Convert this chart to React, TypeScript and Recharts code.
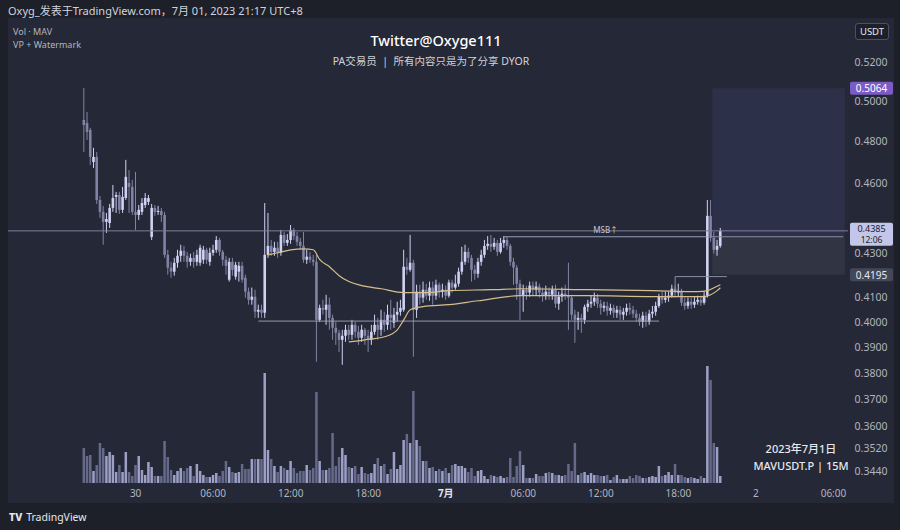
import React from 'react';
import { ComposedChart, Bar, Line, XAxis, YAxis, ReferenceLine, ReferenceArea } from 'recharts';

const FONT = "'Noto Sans', 'Noto Sans CJK SC', sans-serif";
const UP = '#cfd2f2';
const DOWN = '#8084a4';
const VOL_UP = '#9da0c6';
const VOL_DOWN = '#666a8a';
const MA_COLOR = '#d6bf8c';

// 15m candles, first one at 20:00 on 29 June (slot 0 = 00:00 30 June)
const firstSlot = -16;

const opens = [
  0.4905, 0.4890, 0.4856, 0.4701, 0.4725, 0.4524, 0.4470, 0.4425, 0.4420, 0.4488, 0.4538, 0.4547, 0.4479, 0.4533, 0.4603, 0.4584,
  0.4470, 0.4456, 0.4470, 0.4501, 0.4515, 0.4358, 0.4488, 0.4470, 0.4474, 0.4456, 0.4280,
  0.4225, 0.4208, 0.4246, 0.4276, 0.4298, 0.4276, 0.4250, 0.4267, 0.4250, 0.4246,
  0.4259, 0.4302, 0.4250, 0.4289, 0.4302, 0.4345, 0.4293, 0.4259, 0.4174, 0.4250,
  0.4187, 0.4208, 0.4233, 0.4182, 0.4124, 0.4090, 0.4103, 0.4041, 0.4049, 0.4037,
  0.4280, 0.4319, 0.4293, 0.4311, 0.4289, 0.4367, 0.4332, 0.4345, 0.4389, 0.4362,
  0.4337, 0.4319, 0.4259, 0.4272, 0.4259, 0.4250, 0.4008, 0.4057, 0.4049, 0.4070,
  0.4016, 0.3976, 0.3956, 0.3928, 0.3944, 0.3968, 0.3948, 0.3988, 0.3960, 0.3936,
  0.3968, 0.3944, 0.3928, 0.3960, 0.3988, 0.3968, 0.4008, 0.3988, 0.4029, 0.3996,
  0.4029, 0.4041, 0.4049, 0.4229, 0.4216, 0.4246, 0.4049, 0.4124, 0.4099, 0.4132,
  0.4107, 0.4141, 0.4107, 0.4153, 0.4124, 0.4132, 0.4107, 0.4162, 0.4141, 0.4157,
  0.4208, 0.4250, 0.4293, 0.4267, 0.4216, 0.4199, 0.4250, 0.4280, 0.4319, 0.4328,
  0.4315, 0.4332, 0.4293, 0.4332, 0.4345, 0.4319, 0.4250, 0.4225, 0.4157, 0.4107,
  0.4132, 0.4120, 0.4149, 0.4132, 0.4145, 0.4120, 0.4107, 0.4124, 0.4111, 0.4132,
  0.4074, 0.4103, 0.4115, 0.4107, 0.4099, 0.4029, 0.4008, 0.4016, 0.4008, 0.4061,
  0.4074, 0.4082, 0.4099, 0.4074, 0.4057, 0.4065, 0.4045, 0.4057, 0.4037, 0.4049,
  0.4029, 0.4041, 0.4057, 0.4049, 0.4033, 0.4016, 0.4000, 0.4025, 0.4000, 0.4033,
  0.4041, 0.4065, 0.4103, 0.4090, 0.4099, 0.4107, 0.4136, 0.4120, 0.4124, 0.4078,
  0.4065, 0.4082, 0.4070, 0.4082, 0.4090, 0.4078, 0.4107, 0.4452, 0.4354, 0.4302, 0.4319,
];

const highs = [
  0.5066, 0.4945, 0.4866, 0.4769, 0.4749, 0.4542, 0.4497, 0.4465, 0.4506, 0.4593, 0.4561, 0.4561, 0.4584, 0.4711, 0.4663, 0.4617,
  0.4654, 0.4501, 0.4533, 0.4556, 0.4547, 0.4506, 0.4501, 0.4497, 0.4488, 0.4470, 0.4302,
  0.4250, 0.4267, 0.4302, 0.4324, 0.4319, 0.4293, 0.4285, 0.4293, 0.4302, 0.4324,
  0.4319, 0.4311, 0.4311, 0.4324, 0.4362, 0.4354, 0.4302, 0.4276, 0.4267, 0.4267,
  0.4250, 0.4250, 0.4250, 0.4195, 0.4141, 0.4141, 0.4132, 0.4070, 0.4070, 0.4510,
  0.4465, 0.4345, 0.4337, 0.4337, 0.4389, 0.4380, 0.4371, 0.4411, 0.4398, 0.4380,
  0.4354, 0.4380, 0.4302, 0.4293, 0.4280, 0.4280, 0.4070, 0.4090, 0.4111, 0.4099,
  0.4029, 0.4000, 0.3968, 0.3968, 0.3988, 0.3988, 0.4008, 0.4000, 0.3984, 0.3988,
  0.3976, 0.3968, 0.3988, 0.4029, 0.4016, 0.4049, 0.4041, 0.4070, 0.4090, 0.4057,
  0.4082, 0.4090, 0.4302, 0.4267, 0.4367, 0.4259, 0.4153, 0.4153, 0.4166, 0.4157,
  0.4166, 0.4166, 0.4174, 0.4162, 0.4157, 0.4149, 0.4174, 0.4174, 0.4195, 0.4225,
  0.4315, 0.4324, 0.4311, 0.4280, 0.4237, 0.4267, 0.4302, 0.4345, 0.4362, 0.4367,
  0.4354, 0.4345, 0.4354, 0.4362, 0.4358, 0.4328, 0.4267, 0.4237, 0.4174, 0.4153,
  0.4149, 0.4166, 0.4166, 0.4166, 0.4157, 0.4141, 0.4149, 0.4141, 0.4149, 0.4153,
  0.4124, 0.4141, 0.4153, 0.4246, 0.4111, 0.4049, 0.4041, 0.4033, 0.4070, 0.4090,
  0.4107, 0.4120, 0.4115, 0.4090, 0.4082, 0.4082, 0.4074, 0.4070, 0.4065, 0.4065,
  0.4057, 0.4074, 0.4078, 0.4065, 0.4049, 0.4033, 0.4041, 0.4041, 0.4049, 0.4065,
  0.4082, 0.4115, 0.4124, 0.4124, 0.4124, 0.4153, 0.4149, 0.4157, 0.4136, 0.4099,
  0.4099, 0.4099, 0.4103, 0.4107, 0.4107, 0.4124, 0.4524, 0.4524, 0.4380, 0.4345, 0.4398,
];

const lows = [
  0.4749, 0.4807, 0.4687, 0.4673, 0.4506, 0.4443, 0.4324, 0.4376, 0.4398, 0.4470, 0.4465, 0.4461, 0.4465, 0.4524, 0.4465, 0.4456,
  0.4389, 0.4434, 0.4456, 0.4488, 0.4501, 0.4345, 0.4452, 0.4456, 0.4425, 0.4267, 0.4195,
  0.4182, 0.4191, 0.4225, 0.4250, 0.4250, 0.4225, 0.4233, 0.4225, 0.4233, 0.4233,
  0.4241, 0.4241, 0.4233, 0.4276, 0.4289, 0.4276, 0.4233, 0.4195, 0.4166, 0.4191,
  0.4174, 0.4166, 0.4162, 0.4099, 0.4070, 0.4070, 0.4016, 0.4016, 0.4016, 0.4016,
  0.4267, 0.4276, 0.4276, 0.4267, 0.4276, 0.4319, 0.4319, 0.4328, 0.4345, 0.4319,
  0.4302, 0.4246, 0.4241, 0.4246, 0.4233, 0.3842, 0.4000, 0.4029, 0.3988, 0.3968,
  0.3928, 0.3908, 0.3880, 0.3830, 0.3920, 0.3928, 0.3928, 0.3936, 0.3908, 0.3920,
  0.3908, 0.3880, 0.3908, 0.3948, 0.3928, 0.3944, 0.3960, 0.3968, 0.3968, 0.3976,
  0.4000, 0.4025, 0.4041, 0.4195, 0.4208, 0.3861, 0.4016, 0.4070, 0.4078, 0.4090,
  0.4086, 0.4070, 0.4090, 0.4099, 0.4099, 0.4090, 0.4099, 0.4120, 0.4132, 0.4145,
  0.4195, 0.4237, 0.4246, 0.4166, 0.4174, 0.4182, 0.4233, 0.4267, 0.4302, 0.4293,
  0.4302, 0.4276, 0.4285, 0.4311, 0.4302, 0.4233, 0.4153, 0.4090, 0.4008, 0.4041,
  0.4090, 0.4103, 0.4107, 0.4107, 0.4099, 0.4082, 0.4090, 0.4090, 0.4090, 0.4057,
  0.4049, 0.4082, 0.4090, 0.3968, 0.4008, 0.3916, 0.3968, 0.3956, 0.3992, 0.4041,
  0.4057, 0.4065, 0.4057, 0.4029, 0.4041, 0.4025, 0.4029, 0.4016, 0.4016, 0.4008,
  0.4008, 0.4025, 0.4029, 0.4016, 0.4000, 0.3984, 0.3976, 0.3980, 0.3988, 0.4016,
  0.4025, 0.4057, 0.4074, 0.4078, 0.4082, 0.4099, 0.4099, 0.4103, 0.4065, 0.4049,
  0.4053, 0.4053, 0.4057, 0.4070, 0.4065, 0.4070, 0.4099, 0.4337, 0.4285, 0.4276, 0.4311,
];

const closes = [
  0.4880, 0.4846, 0.4725, 0.4725, 0.4524, 0.4470, 0.4425, 0.4438, 0.4488, 0.4533, 0.4547, 0.4479, 0.4538, 0.4631, 0.4584, 0.4470,
  0.4456, 0.4479, 0.4510, 0.4533, 0.4533, 0.4488, 0.4470, 0.4474, 0.4456, 0.4280, 0.4225,
  0.4208, 0.4246, 0.4276, 0.4298, 0.4276, 0.4250, 0.4267, 0.4250, 0.4280, 0.4311,
  0.4302, 0.4259, 0.4289, 0.4302, 0.4345, 0.4293, 0.4259, 0.4233, 0.4250, 0.4216,
  0.4237, 0.4233, 0.4174, 0.4124, 0.4090, 0.4103, 0.4041, 0.4049, 0.4037, 0.4280,
  0.4319, 0.4293, 0.4311, 0.4289, 0.4367, 0.4332, 0.4345, 0.4389, 0.4362, 0.4337,
  0.4319, 0.4259, 0.4272, 0.4259, 0.4250, 0.4008, 0.4057, 0.4049, 0.4070, 0.4016,
  0.3976, 0.3956, 0.3928, 0.3944, 0.3968, 0.3948, 0.3988, 0.3960, 0.3936, 0.3968,
  0.3944, 0.3928, 0.3960, 0.3988, 0.3968, 0.4008, 0.3988, 0.4029, 0.4016, 0.4029,
  0.4041, 0.4057, 0.4229, 0.4216, 0.4246, 0.4049, 0.4124, 0.4099, 0.4132, 0.4107,
  0.4141, 0.4107, 0.4153, 0.4124, 0.4132, 0.4107, 0.4162, 0.4141, 0.4157, 0.4208,
  0.4250, 0.4293, 0.4267, 0.4216, 0.4199, 0.4250, 0.4280, 0.4319, 0.4328, 0.4315,
  0.4332, 0.4293, 0.4332, 0.4345, 0.4319, 0.4250, 0.4225, 0.4157, 0.4107, 0.4132,
  0.4120, 0.4149, 0.4132, 0.4145, 0.4120, 0.4107, 0.4124, 0.4111, 0.4132, 0.4074,
  0.4103, 0.4115, 0.4107, 0.4099, 0.4029, 0.4008, 0.4016, 0.4008, 0.4061, 0.4074,
  0.4082, 0.4099, 0.4074, 0.4057, 0.4065, 0.4045, 0.4057, 0.4037, 0.4049, 0.4029,
  0.4041, 0.4057, 0.4049, 0.4033, 0.4016, 0.4000, 0.4025, 0.4000, 0.4033, 0.4041,
  0.4065, 0.4103, 0.4090, 0.4099, 0.4107, 0.4136, 0.4120, 0.4124, 0.4078, 0.4065,
  0.4082, 0.4070, 0.4082, 0.4090, 0.4078, 0.4107, 0.4452, 0.4354, 0.4302, 0.4319, 0.4385,
];

// volume, thousands of MAV
const volumes = [
  350, 270, 280, 120, 180, 400, 350, 270, 310, 280, 110, 180, 110, 310, 110, 70,
  180, 270, 130, 80, 210, 160, 70, 70, 70, 420, 260,
  130, 80, 120, 150, 120, 150, 170, 70, 190, 120,
  80, 60, 60, 80, 100, 70, 120, 220, 160, 110,
  100, 110, 190, 140, 140, 240, 240, 240, 240, 1100,
  330, 240, 170, 110, 170, 150, 130, 220, 150, 100,
  120, 120, 180, 130, 150, 910, 220, 130, 130, 150,
  500, 170, 260, 350, 280, 160, 150, 170, 90, 160,
  100, 90, 100, 190, 250, 170, 190, 90, 140, 310,
  140, 180, 430, 490, 400, 920, 430, 370, 220, 220,
  150, 160, 120, 140, 120, 150, 100, 180, 190, 170,
  170, 150, 110, 150, 70, 120, 130, 70, 40, 80,
  70, 60, 70, 50, 60, 250, 60, 170, 320, 180,
  50, 50, 50, 90, 70, 70, 100, 110, 100, 80,
  80, 70, 80, 190, 120, 400, 80, 100, 110, 80,
  100, 80, 80, 70, 70, 80, 30, 60, 80, 40,
  40, 40, 70, 50, 80, 70, 50, 50, 60, 70,
  60, 170, 70, 80, 110, 80, 190, 80, 80, 60,
  50, 60, 50, 40, 70, 50, 1170, 1030, 400, 360, 70,
];

// moving averages read at a few slots: [slot, value]
const ma1Points: [number, number][] = [
  [41, 0.428], [44, 0.4289], [48, 0.4302], [52, 0.4306], [55, 0.4302], [57, 0.4259], [60, 0.4229],
  [63, 0.4191], [66, 0.4166], [70, 0.4149], [76, 0.4136], [83, 0.412], [90, 0.412], [97, 0.4128],
  [110, 0.4132], [120, 0.4136], [140, 0.4132], [160, 0.4128], [174, 0.4124], [177, 0.4128],
  [179, 0.414], [181, 0.4153],
];
const ma2Points: [number, number][] = [
  [66, 0.392], [71, 0.3928], [77, 0.394], [81, 0.3968], [83, 0.4008], [85, 0.4049], [89, 0.4062],
  [97, 0.407], [106, 0.4086], [119, 0.4107], [140, 0.4107], [160, 0.4103], [176, 0.4103],
  [178, 0.4111], [180, 0.4128], [181, 0.414],
];

const timeTicks = [0, 24, 48, 72, 96, 120, 144, 168, 192, 216];
const timeLabels = ['30', '06:00', '12:00', '18:00', '7月', '06:00', '12:00', '18:00', '2', '06:00'];
const priceTicks = [0.52, 0.5, 0.48, 0.46, 0.43, 0.41, 0.4, 0.39, 0.38, 0.37, 0.36, 0.352, 0.344];

const lastPrice = 0.4385;
const targetPrice = 0.5064;
const entryPrice = 0.4359;
const stopPrice = 0.4195;
const supportPrice = 0.4003;
const boxPrice = 0.4187;

const ma1Map = new Map(ma1Points);
const ma2Map = new Map(ma2Points);

const rows: any[] = [];
for (let s = -39; s <= 220; s++) {
  const i = s - firstSlot;
  const row: any = { slot: s, ma1: ma1Map.get(s) ?? null, ma2: ma2Map.get(s) ?? null };
  if (i >= 0 && i < closes.length) {
    row.open = opens[i];
    row.high = highs[i];
    row.low = lows[i];
    row.close = closes[i];
    row.vol = volumes[i];
  }
  rows.push(row);
}

const candleRange = (d: any) => (d.high == null ? null : [d.low, d.high]);

const Candle = (props: any) => {
  const { x, y, width, height, payload } = props;
  if (!payload || payload.high == null) return null;
  const { open, close, high, low } = payload;
  const lh = Math.log(high);
  const span = lh - Math.log(low) || 1e-9;
  const py = (p: number) => y + (height * (lh - Math.log(p))) / span;
  const color = close >= open ? UP : DOWN;
  const cx = x + width / 2;
  const top = py(Math.max(open, close));
  const bot = py(Math.min(open, close));
  return (
    <g>
      <line x1={cx} x2={cx} y1={y} y2={y + height} stroke={color} strokeWidth={1} />
      <rect x={cx - 1.3} y={top} width={2.6} height={Math.max(1, bot - top)} fill={color} />
    </g>
  );
};

const VolumeBar = (props: any) => {
  const { x, y, width, height, payload } = props;
  if (!payload || payload.vol == null) return null;
  const color = payload.close >= payload.open ? VOL_UP : VOL_DOWN;
  return <rect x={x + width / 2 - 1.25} y={y} width={2.5} height={height} fill={color} />;
};

// the 0.4300 label sits just under the last-price tag, nudged down a little
const PriceTick = ({ x, y, payload }: any) => (
  <text x={x + 23} y={payload.value === 0.43 ? y + 2.5 : y} fill="#b2b5be" fontSize={10.5} fontFamily={FONT} textAnchor="middle" dominantBaseline="central">
    {Number(payload.value).toFixed(4)}
  </text>
);

const TimeTick = ({ x, y, payload }: any) => {
  const label = timeLabels[timeTicks.indexOf(payload.value)];
  const bold = label === '7月';
  return (
    <text x={x} y={y + 10} fill={bold ? '#e0e3eb' : '#b2b5be'} fontWeight={bold ? 700 : 400} fontSize={10} fontFamily={FONT} textAnchor="middle" dominantBaseline="central">
      {label}
    </text>
  );
};

const AxisTag = ({ viewBox, text, sub, bg, color }: any) => {
  if (!viewBox) return null;
  const x = viewBox.x + viewBox.width + 2;
  const h = sub ? 23 : 13;
  const top = viewBox.y - (sub ? 8 : 6.5);
  return (
    <g>
      <rect x={x} y={top} width={43} height={h} rx={2} fill={bg} />
      <text x={x + 21.5} y={top + (sub ? 5.5 : 6.5)} fill={color} fontSize={sub ? 9 : 10} fontFamily={FONT} textAnchor="middle" dominantBaseline="central">
        {text}
      </text>
      {sub && (
        <text x={x + 21.5} y={top + 17} fill={color} fontSize={8.5} fontFamily={FONT} textAnchor="middle" dominantBaseline="central">
          {sub}
        </text>
      )}
    </g>
  );
};

const MsbLabel = ({ viewBox }: any) => {
  if (!viewBox) return null;
  return (
    <text x={viewBox.x + viewBox.width / 2} y={viewBox.y - 7} fill="#c3c6dc" fontSize={8} fontFamily={FONT} textAnchor="middle" dominantBaseline="central">
      MSB↑
    </text>
  );
};

const abs = (left: number, top: number, extra: React.CSSProperties = {}): React.CSSProperties => ({
  position: 'absolute',
  left,
  top,
  fontFamily: FONT,
  whiteSpace: 'nowrap',
  ...extra,
});

export default function App() {
  return (
    <div style={{ position: 'fixed', left: 0, top: 0, width: 900, height: 530, background: '#1e2029', overflow: 'hidden' }}>
      <div style={abs(8, 3, { fontSize: 11, color: '#d1d4dc', lineHeight: '16px' })}>
        Oxyg_发表于TradingView.com，7月 01, 2023 21:17 UTC+8
      </div>
      <div style={{ position: 'absolute', left: 8, top: 18, width: 886, height: 485, background: '#252836' }}>
        <ComposedChart width={886} height={485} data={rows} margin={{ top: 0, right: 0, bottom: 0, left: 0 }} barGap={-3}>
          <XAxis dataKey="slot" type="category" ticks={timeTicks} interval={0} tick={<TimeTick />} tickSize={0} tickMargin={0} axisLine={false} tickLine={false} height={20} />
          <YAxis yAxisId="price" orientation="right" type="number" scale="log" domain={[0.3399, 0.5437]} allowDataOverflow ticks={priceTicks} interval={0} tick={<PriceTick />} tickSize={0} tickMargin={0} axisLine={false} tickLine={false} width={46} />
          <YAxis yAxisId="vol" hide domain={[0, 4650]} />
          <Bar yAxisId="vol" dataKey="vol" barSize={3} shape={VolumeBar} isAnimationActive={false} />
          <ReferenceArea yAxisId="price" x1={179} x2={219} y1={entryPrice} y2={targetPrice} fill="#5a5fb0" fillOpacity={0.16} stroke="none" />
          <ReferenceArea yAxisId="price" x1={179} x2={219} y1={stopPrice} y2={entryPrice} fill="#6a6d80" fillOpacity={0.18} stroke="none" />
          <ReferenceLine yAxisId="price" y={lastPrice} stroke="#7d8099" strokeWidth={1} label={<AxisTag text="0.4385" sub="12:06" bg="#c3c6e8" color="#1e2029" />} />
          <ReferenceLine yAxisId="price" y={targetPrice} stroke="none" label={<AxisTag text="0.5064" bg="#7b5cc4" color="#ffffff" />} />
          <ReferenceLine yAxisId="price" y={stopPrice} stroke="none" label={<AxisTag text="0.4195" bg="#434757" color="#e6e8f0" />} />
          <ReferenceLine yAxisId="price" segment={[{ x: 38, y: supportPrice }, { x: 162, y: supportPrice }]} stroke="#9699ad" strokeWidth={1} />
          <ReferenceLine yAxisId="price" segment={[{ x: 114, y: entryPrice }, { x: 177, y: entryPrice }]} stroke="#9a9dbd" strokeWidth={1} label={<MsbLabel />} />
          <ReferenceLine yAxisId="price" segment={[{ x: 178, y: entryPrice }, { x: 219, y: entryPrice }]} stroke="#8a8da3" strokeWidth={1} />
          <ReferenceLine yAxisId="price" segment={[{ x: 167, y: boxPrice }, { x: 183, y: boxPrice }]} stroke="#8a8da3" strokeWidth={1} />
          <ReferenceLine yAxisId="price" segment={[{ x: 167, y: boxPrice }, { x: 167, y: 0.413 }]} stroke="#8a8da3" strokeWidth={1} />
          <Line yAxisId="price" dataKey="ma1" type="monotone" stroke={MA_COLOR} strokeWidth={1.2} dot={false} connectNulls isAnimationActive={false} />
          <Line yAxisId="price" dataKey="ma2" type="monotone" stroke={MA_COLOR} strokeWidth={1.2} dot={false} connectNulls isAnimationActive={false} />
          <Bar yAxisId="price" dataKey={candleRange} barSize={3} shape={Candle} isAnimationActive={false} />
        </ComposedChart>
      </div>
      <div style={abs(13, 25, { fontSize: 9, color: '#b2b5be', lineHeight: '13px' })}>
        Vol · MAV
        <br />
        VP + Watermark
      </div>
      <div style={abs(316, 30, { width: 240, textAlign: 'center', fontSize: 14.5, fontWeight: 500, color: '#ffffff', lineHeight: '20px' })}>
        Twitter@Oxyge111
      </div>
      <div style={abs(271, 53, { width: 320, textAlign: 'center', fontSize: 10.5, color: '#d0d2da', lineHeight: '16px' })}>
        PA交易员 &nbsp;|&nbsp; 所有内容只是为了分享 DYOR
      </div>
      <div style={abs(741, 440, { width: 120, textAlign: 'center', fontSize: 11, color: '#e6e8f0', lineHeight: '17px', fontWeight: 500 })}>
        2023年7月1日
        <br />
        MAVUSDT.P | 15M
      </div>
      <div style={abs(855, 23, { width: 32, height: 15, border: '1px solid #4d5061', borderRadius: 3, background: '#1e2029', color: '#e6e8f0', fontSize: 9.5, lineHeight: '15px', textAlign: 'center' })}>
        USDT
      </div>
      <div style={abs(9, 509, { fontSize: 10.5, color: '#e6e8f0', lineHeight: '16px' })}>
        <span style={{ fontWeight: 800, marginRight: 4 }}>TV</span>TradingView
      </div>
    </div>
  );
}
